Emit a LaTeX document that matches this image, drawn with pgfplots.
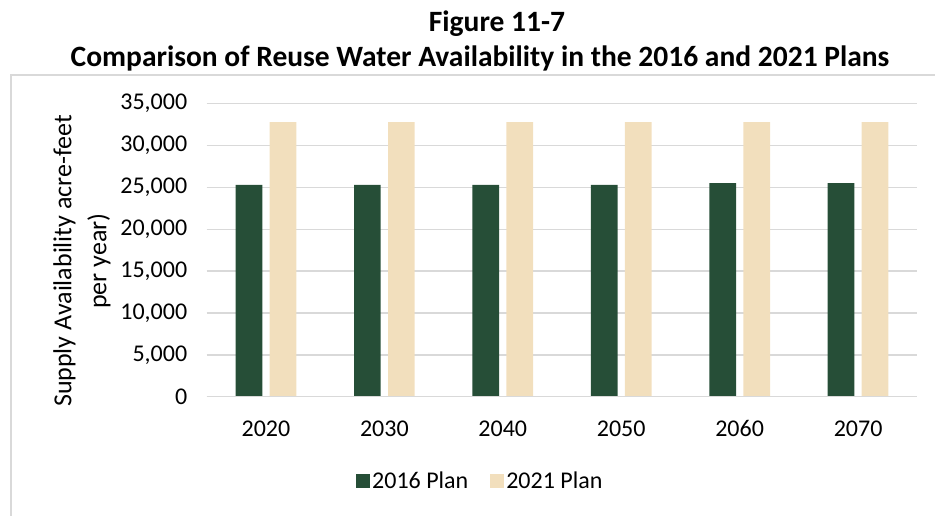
\documentclass[border=0pt]{standalone}
\usepackage{fontspec}
\setmainfont{Carlito}
\usepackage{pgfplots}
\pgfplotsset{compat=1.18}
\definecolor{darkgreen}{RGB}{38,78,55}
\definecolor{beige}{RGB}{242,223,189}
\definecolor{gridgray}{RGB}{217,217,217}
\begin{document}
\begin{tikzpicture}
\path[use as bounding box] (0bp,0bp) rectangle (935bp,516bp);
% chart frame
\draw[gridgray, line width=1.5bp] (11bp,0bp) -- (11bp,441bp) -- (935bp,441bp);
% titles
\node[anchor=base, font=\fontsize{29.5bp}{34bp}\selectfont\bfseries, inner sep=0] at (497bp,484.3bp) {Figure 11-7};
\node[anchor=base, font=\fontsize{29.5bp}{34bp}\selectfont\bfseries, inner sep=0] at (480bp,449.3bp) {Comparison of Reuse Water Availability in the 2016 and 2021 Plans};
\begin{axis}[
  at={(206.7bp,119.3bp)}, anchor=south west,
  scale only axis, width=710.6bp, height=293bp,
  xmin=-0.5, xmax=5.5, ymin=0, ymax=35000,
  xtick=data, xticklabels={2020,2030,2040,2050,2060,2070},
  ytick={0,5000,10000,15000,20000,25000,30000,35000},
  scaled y ticks=false,
  /pgf/number format/assume math mode=true,
  /pgf/number format/1000 sep={,},
  tick label style={font=\fontsize{24bp}{28bp}\selectfont},
  xticklabel style={anchor=base, yshift=-39.4bp},
  yticklabel style={xshift=-16bp},
  major tick length=0pt,
  axis line style={draw=none},
  axis x line*=bottom, axis y line*=left,
  ymajorgrids, grid style={gridgray, line width=1.5bp},
  legend columns=2,
  legend style={at={(0.385,-0.288)}, anchor=center, draw=none, fill=none,
    font=\fontsize{24bp}{28bp}\selectfont,
    /tikz/every even column/.append style={column sep=20bp}},
  legend image code/.code={\fill[#1] (0bp,-7bp) rectangle (14bp,7bp);},
  clip=false,
]
\addplot[ybar, bar width=26.7bp, bar shift=-17bp, fill=darkgreen, draw=none]
  coordinates {(0,25300) (1,25300) (2,25300) (3,25300) (4,25500) (5,25500)};
\addlegendentry{2016 Plan}
\addplot[ybar, bar width=26.7bp, bar shift=17bp, fill=beige, draw=none]
  coordinates {(0,32800) (1,32800) (2,32800) (3,32800) (4,32800) (5,32800)};
\addlegendentry{2021 Plan}
\draw[gridgray, line width=1.5bp] (axis cs:-0.5,0) -- (axis cs:5.5,0);
\end{axis}
\node[rotate=90, align=center, font=\fontsize{26bp}{35bp}\selectfont] at (82bp,255bp) {Supply Availability acre-feet\\per year)};
\end{tikzpicture}
\end{document}
